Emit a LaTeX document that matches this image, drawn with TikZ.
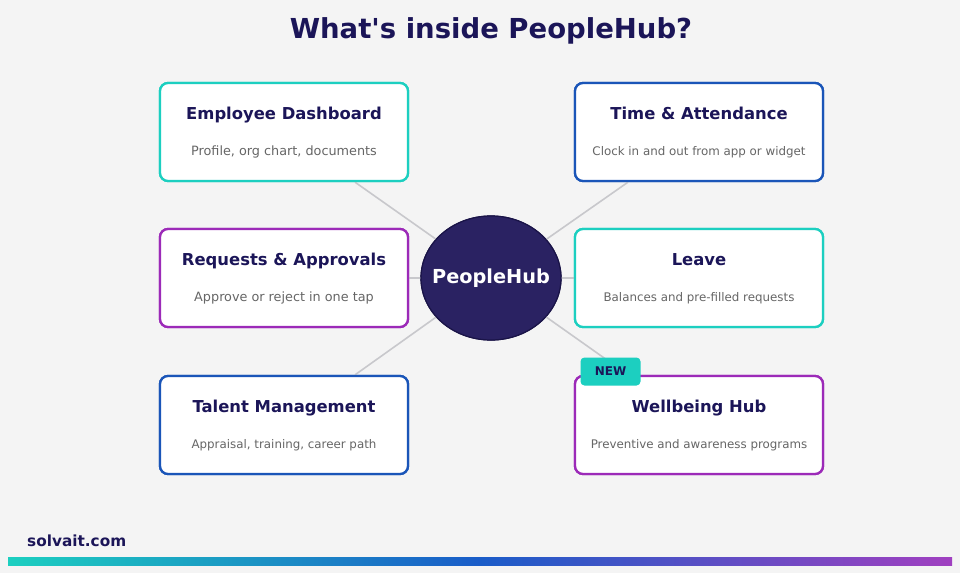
\documentclass[tikz,border=0pt]{standalone}
\usepackage{fontspec}
\setmainfont{DejaVu Sans}[Ligatures=TeXOff]
\usetikzlibrary{shapes.geometric}
\definecolor{bgc}{HTML}{F4F4F4}
\definecolor{navy}{HTML}{1B1558}
\definecolor{hubfill}{HTML}{2A2262}
\definecolor{hubline}{HTML}{1A1448}
\definecolor{cteal}{HTML}{1CCFC0}
\definecolor{cblue}{HTML}{1A55B8}
\definecolor{cpurple}{HTML}{9C2AB8}
\definecolor{subgray}{HTML}{666666}
\definecolor{linegray}{HTML}{C8C8CC}
\definecolor{gmid}{HTML}{1A5CC8}
\definecolor{gend}{HTML}{A040C0}
\tikzset{
  card/.style={draw=#1, line width=2.3pt, fill=white, rounded corners=8pt,
    minimum width=248pt, minimum height=98pt, inner sep=0pt},
  cardtitle/.style={anchor=base, inner sep=0pt, font=\fontsize{16.4}{18}\selectfont\bfseries, text=navy},
  cardsub/.style={anchor=base, inner sep=0pt, font=\fontsize{12.8}{14}\selectfont, text=subgray},
  cardsubsm/.style={anchor=base, inner sep=0pt, font=\fontsize{11.85}{14}\selectfont, text=subgray},
  spoke/.style={draw=linegray, line width=1.6pt},
  hubshape/.style={ellipse, fill=hubfill, draw=hubline, line width=1.2pt,
    minimum width=140pt, minimum height=124pt, inner sep=0pt},
}
\begin{document}
\begin{tikzpicture}[x=1pt,y=-1pt]
\fill[bgc] (0,0) rectangle (960,573);
\useasboundingbox (0,0) rectangle (960,573);

\node[anchor=base, inner sep=0pt, font=\fontsize{27.5}{32}\selectfont\bfseries, text=navy] (title) at (491,38.5) {What's inside PeopleHub?};

% layout nodes
\node[hubshape] (hub) at (491,278) {};
\node[card=cteal] (c1) at (284,132) {};
\node[card=cpurple] (c2) at (284,278) {};
\node[card=cblue] (c3) at (284,425) {};
\node[card=cblue] (c4) at (699,132) {};
\node[card=cteal] (c5) at (699,278) {};
\node[card=cpurple] (c6) at (699,425) {};

% spoke endpoints
\coordinate (e1) at ([xshift=71pt]c1.south);
\coordinate (e3) at ([xshift=71pt]c3.north);
\coordinate (e4) at ([xshift=-71pt]c4.south);
\coordinate (e6) at ([xshift=-71pt]c6.north);

% spokes, then hub and cards redrawn on top
\path[spoke] (hub.center) -- (e1);
\path[spoke] (hub.center) -- (c2.east);
\path[spoke] (hub.center) -- (e3);
\path[spoke] (hub.center) -- (e4);
\path[spoke] (hub.center) -- (c5.west);
\path[spoke] (hub.center) -- (e6);

\node[hubshape] at (hub.center) {};
\node[card=cteal] at (c1.center) {};
\node[card=cpurple] at (c2.center) {};
\node[card=cblue] at (c3.center) {};
\node[card=cblue] at (c4.center) {};
\node[card=cteal] at (c5.center) {};
\node[card=cpurple] at (c6.center) {};

\node[anchor=base, inner sep=0pt, font=\fontsize{19.3}{22}\selectfont\bfseries, text=white] (hubtext) at (491,283.5) {PeopleHub};

% card texts
\node[cardtitle] (t1) at (284,119) {Employee Dashboard};
\node[cardsub] (s1) at (284,155) {Profile, org chart, documents};
\node[cardtitle] (t2) at (284,265) {Requests \& Approvals};
\node[cardsub] (s2) at (284,301) {Approve or reject in one tap};
\node[cardtitle] (t3) at (284,412) {Talent Management};
\node[cardsubsm] (s3) at (284,448) {Appraisal, training, career path};
\node[cardtitle] (t4) at (699,119) {Time \& Attendance};
\node[cardsubsm] (s4) at (699,155) {Clock in and out from app or widget};
\node[cardtitle] (t5) at (699,265) {Leave};
\node[cardsubsm] (s5) at (699,301) {Balances and pre-filled requests};
\node[cardtitle] (t6) at (699,412) {Wellbeing Hub};
\node[cardsubsm] (s6) at (699,448) {Preventive and awareness programs};

% NEW badge
\node[fill=cteal, rounded corners=4pt, minimum width=60pt, minimum height=28pt, inner sep=0pt] (badge) at (610.5,371.5) {};
\node[anchor=base, inner sep=0pt, font=\fontsize{12}{14}\selectfont\bfseries, text=navy] (badgetext) at (610.5,375.7) {NEW};

% footer
\node[anchor=base west, font=\fontsize{15.3}{18}\selectfont\bfseries, text=navy, inner sep=0pt] (site) at (27,546.5) {solvait.com};
\shade[left color=cteal, right color=gmid] (8,557) rectangle (480,565);
\shade[left color=gmid, right color=gend] (479.5,557) rectangle (952,565);
\end{tikzpicture}
\end{document}
